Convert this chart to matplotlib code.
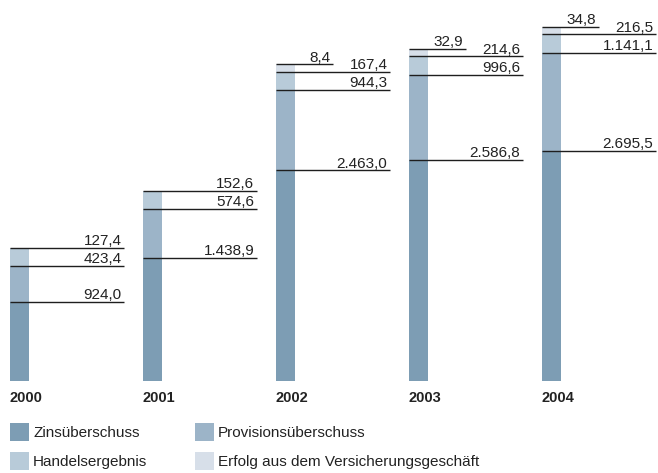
import numpy as np
import matplotlib.pyplot as plt
from matplotlib.patches import Rectangle

plt.rcParams['font.family'] = ['Liberation Sans', 'DejaVu Sans']

years = ['2000', '2001', '2002', '2003', '2004']
zins = [924.0, 1438.9, 2463.0, 2586.8, 2695.5]
provision = [423.4, 574.6, 944.3, 996.6, 1141.1]
handel = [127.4, 152.6, 167.4, 214.6, 216.5]
versicherung = [0.0, 0.0, 8.4, 32.9, 34.8]

series = [zins, provision, handel, versicherung]
names = ['Zinsüberschuss', 'Provisionsüberschuss', 'Handelsergebnis',
         'Erfolg aus dem Versicherungsgeschäft']
colors = ['#7d9db4', '#9cb4c8', '#b8cbd9', '#d7dfe9']
# small segments get a minimum drawn height so the labels have room
floors = [0, 0, 210, 90]

W, H = 658, 473
px_x = 133.0          # pixels per category step
px_y = 0.0855         # pixels per data unit
bar_w = 19 / px_x
long_len = 114 / px_x
short_len = 57 / px_x

fig = plt.figure(figsize=(W / 100, H / 100), dpi=100)
ax = fig.add_axes([0, 92 / H, 1, 381 / H])
ax.set_xlim(-9.5 / px_x, (W - 9.5) / px_x)
ax.set_ylim(0, 381 / px_y)
ax.axis('off')

x = np.arange(len(years))
bottom = np.zeros(len(years))
for k, vals in enumerate(series):
    vals = np.array(vals)
    shown = np.where(vals > 0, np.maximum(vals, floors[k]), 0)
    ax.bar(x, shown, bar_w, bottom=bottom, color=colors[k], align='edge')
    top = bottom + shown
    for i in range(len(years)):
        if vals[i] <= 0:
            continue
        length = short_len if k == 3 else long_len
        ax.plot([x[i], x[i] + length], [top[i], top[i]], color='#1e1e1e',
                lw=1.0, solid_capstyle='butt')
        label = f'{vals[i]:,.1f}'.replace(',', 'X').replace('.', ',').replace('X', '.')
        ax.annotate(label, xy=(x[i] + length, top[i]), xytext=(-1.5, 1.8),
                    textcoords='offset points', ha='right', va='baseline',
                    fontsize=11, color='#222222', annotation_clip=False)
    bottom = top

for i, yr in enumerate(years):
    ax.annotate(yr, xy=(x[i], 0), xytext=(0, -12), textcoords='offset points',
                ha='left', va='center', fontsize=10.5, fontweight='bold',
                color='#222222')

# legend, laid out as in the original (two columns, two rows)
leg_pos = [(10, 423), (195, 423), (10, 452), (195, 452)]
for (lx, ly), name, col in zip(leg_pos, names, colors):
    fig.add_artist(Rectangle((lx / W, 1 - (ly + 18) / H), 19 / W, 18 / H,
                             transform=fig.transFigure, color=col, lw=0))
    fig.text((lx + 23) / W, 1 - (ly + 10) / H, name, ha='left', va='center',
             fontsize=11, color='#222222')

fig.savefig('out.png', dpi=100)
